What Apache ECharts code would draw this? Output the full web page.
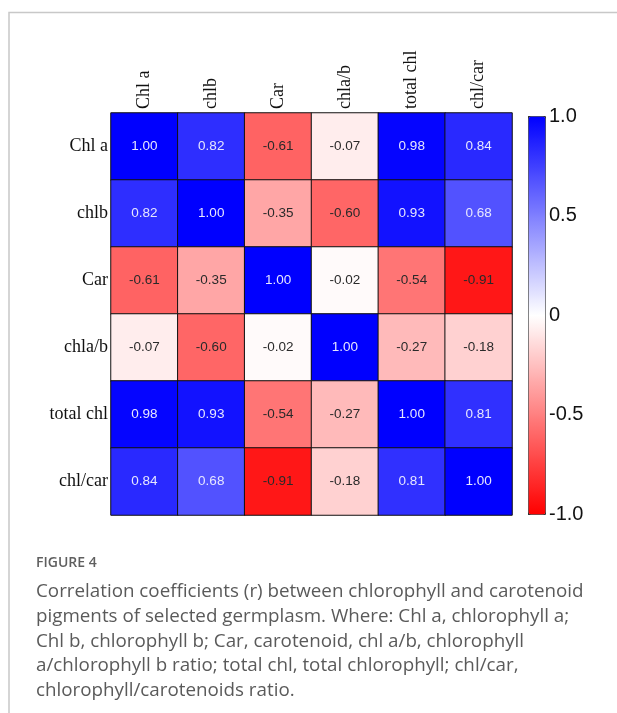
<!DOCTYPE html>
<html>
<head>
<meta charset="utf-8">
<script src="https://cdn.jsdelivr.net/npm/echarts@6/dist/echarts.min.js"></script>
<style>
  html, body { margin: 0; padding: 0; background: #fff; }
  #chart { width: 617px; height: 713px; }
</style>
</head>
<body>
<div id="chart"></div>
<script>
// Pigment variables (same order on both axes)
const variables = ['Chl a', 'chlb', 'Car', 'chla/b', 'total chl', 'chl/car'];

// Pearson correlation coefficients, one array per row variable
const rowChlA     = [1.00, 0.82, -0.61, -0.07, 0.98, 0.84];
const rowChlB     = [0.82, 1.00, -0.35, -0.60, 0.93, 0.68];
const rowCar      = [-0.61, -0.35, 1.00, -0.02, -0.54, -0.91];
const rowChlaB    = [-0.07, -0.60, -0.02, 1.00, -0.27, -0.18];
const rowTotalChl = [0.98, 0.93, -0.54, -0.27, 1.00, 0.81];
const rowChlCar   = [0.84, 0.68, -0.91, -0.18, 0.81, 1.00];

// Colour scale ticks
const scaleTicks = [-1.0, -0.5, 0, 0.5, 1.0];
const scaleTickLabels = ['-1.0', '-0.5', '0', '0.5', '1.0'];

const captionHead = 'FIGURE 4';
const captionLines = [
  'Correlation coefficients (r) between chlorophyll and carotenoid',
  'pigments of selected germplasm. Where: Chl a, chlorophyll a;',
  'Chl b, chlorophyll b; Car, carotenoid, chl a/b, chlorophyll',
  'a/chlorophyll b ratio; total chl, total chlorophyll; chl/car,',
  'chlorophyll/carotenoids ratio.'
];

const rows = [rowChlA, rowChlB, rowCar, rowChlaB, rowTotalChl, rowChlCar];
const cells = [];
rows.forEach((row, r) => {
  row.forEach((v, c) => {
    cells.push({
      value: [c, r, v],
      label: { color: v > 0.3 ? '#e6e6ff' : '#2a2a2a' }
    });
  });
});

const chart = echarts.init(document.getElementById('chart'), null, { renderer: 'canvas' });

const gridHeat = { left: 111, top: 113, width: 401, height: 402 };
const gridBar = { left: 528, top: 116, width: 17, height: 398 };

const graphics = [
  // card frame (left and top edges)
  { type: 'polyline', shape: { points: [[9, 713], [9, 12.5], [617, 12.5]] },
    style: { stroke: '#c8c8c8', lineWidth: 1.5, fill: null }, silent: true },
  { type: 'text', x: 36, y: 563,
    style: { text: captionHead, font: '600 14px "Open Sans", sans-serif', fill: '#5f5f5f',
      verticalAlign: 'middle' } }
];
captionLines.forEach((t, i) => {
  graphics.push({ type: 'text', x: 36, y: 592 + i * 24.6,
    style: { text: t, font: '18.8px "Open Sans", sans-serif', fill: '#5a5a5a', verticalAlign: 'middle' } });
});

chart.setOption({
  animation: false,
  grid: [
    Object.assign({ containLabel: false }, gridHeat),
    Object.assign({ containLabel: false }, gridBar)
  ],
  xAxis: [
    {
      gridIndex: 0, type: 'category', data: variables, position: 'top',
      axisLine: { show: false }, axisTick: { show: false }, splitLine: { show: false },
      axisLabel: { rotate: -90, margin: 4, color: '#111',
        fontFamily: '"Liberation Serif", "Times New Roman", serif', fontSize: 18 }
    },
    { gridIndex: 1, type: 'value', show: false, min: 0, max: 1 }
  ],
  yAxis: [
    {
      gridIndex: 0, type: 'category', data: variables, inverse: true,
      axisLine: { show: false }, axisTick: { show: false }, splitLine: { show: false },
      axisLabel: { margin: 3, color: '#111',
        fontFamily: '"Liberation Serif", "Times New Roman", serif', fontSize: 18 }
    },
    {
      gridIndex: 1, type: 'value', position: 'right', min: -1, max: 1, interval: 0.5,
      axisLine: { show: false },
      axisTick: { show: true, length: 3, lineStyle: { color: '#333' } },
      splitLine: { show: false },
      axisLabel: { margin: 4, color: '#111', fontFamily: '"Liberation Sans", Arial, sans-serif', fontSize: 20,
        formatter: v => { const i = scaleTicks.indexOf(v); return i >= 0 ? scaleTickLabels[i] : ''; } }
    }
  ],
  visualMap: {
    type: 'continuous', min: -1, max: 1, seriesIndex: 0,
    calculable: false, realtime: false, showLabel: false, text: null,
    orient: 'vertical', left: gridBar.left, top: gridBar.top,
    itemWidth: gridBar.width, itemHeight: gridBar.height, padding: 0,
    borderColor: '#333', borderWidth: 1,
    inRange: { color: ['#ff0000', '#ffffff', '#0000ff'] }
  },
  series: [{
    type: 'heatmap', xAxisIndex: 0, yAxisIndex: 0, data: cells,
    itemStyle: { borderColor: '#111', borderWidth: 1 },
    label: { show: true, fontFamily: '"Liberation Sans", Arial, sans-serif', fontSize: 13.5,
      formatter: p => p.value[2].toFixed(2) },
    emphasis: { disabled: true }
  }],
  graphic: graphics
});
</script>
</body>
</html>
